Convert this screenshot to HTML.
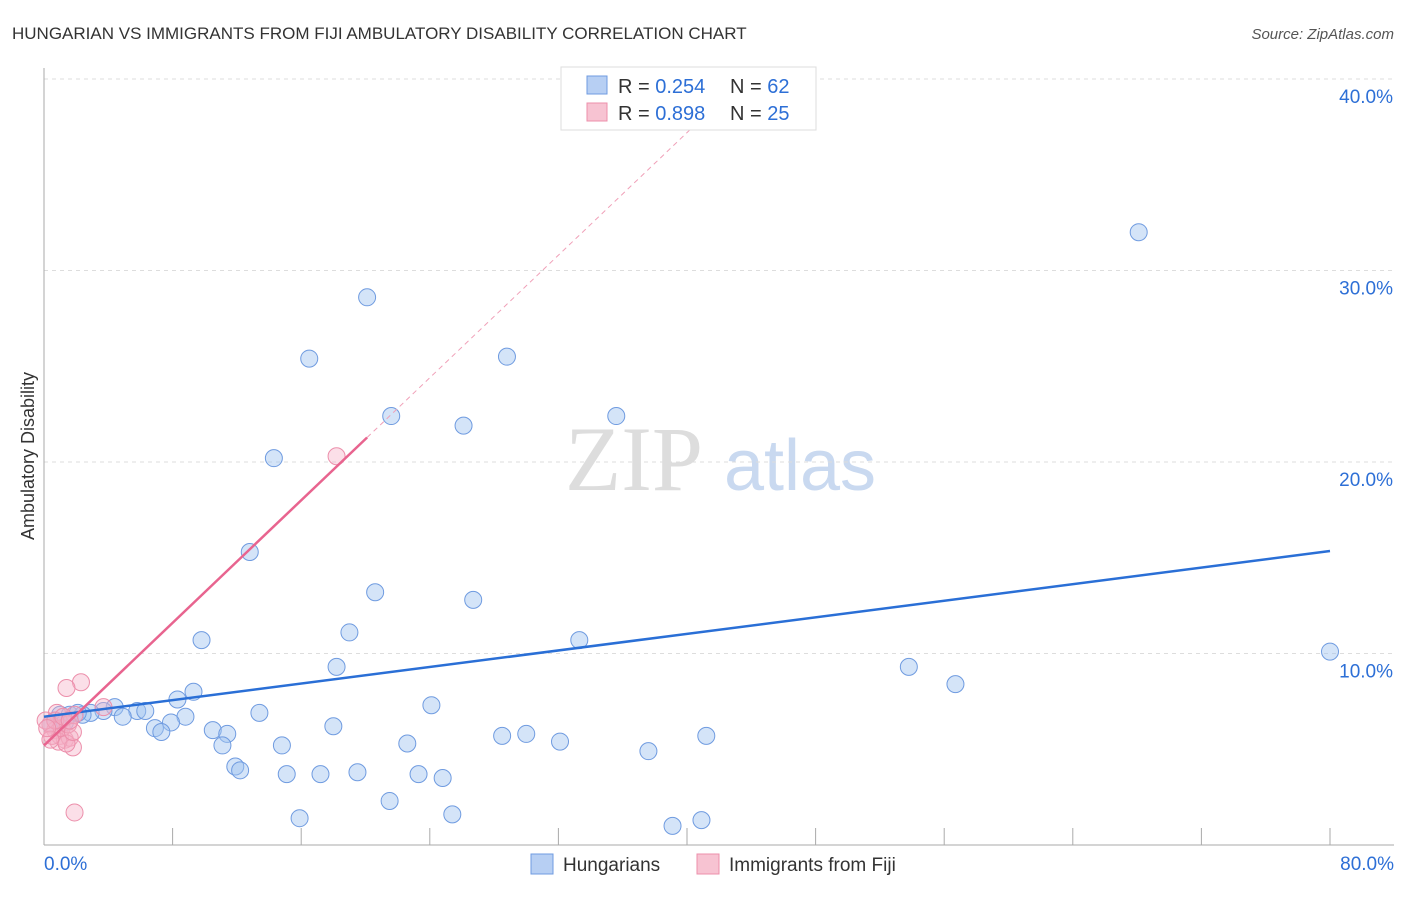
<!DOCTYPE html>
<html><head><meta charset="utf-8"><style>
body{margin:0;background:#fff;font-family:"Liberation Sans",sans-serif}
</style></head><body>
<svg id="chart" width="1406" height="892" xmlns="http://www.w3.org/2000/svg" font-family="Liberation Sans, sans-serif">
<text x="12" y="39" font-size="17" fill="#333">HUNGARIAN VS IMMIGRANTS FROM FIJI AMBULATORY DISABILITY CORRELATION CHART</text>
<text x="1394" y="39" font-size="15" fill="#555" text-anchor="end" font-style="italic">Source: ZipAtlas.com</text>
<g><text x="634" y="490" font-size="92" fill="#ddd" text-anchor="middle" font-family="Liberation Serif, serif">ZIP</text><text x="800" y="490" font-size="72" fill="#c9d9f0" text-anchor="middle">atlas</text></g>
<g id="grid"></g><g id="axes"></g><g id="marks"></g>
<text transform="translate(34,456) rotate(-90)" font-size="18" fill="#333" text-anchor="middle">Ambulatory Disability</text>
<g>
<rect x="561" y="67" width="255" height="63" fill="#fff" stroke="#ddd"/>
<rect x="587" y="76" width="20" height="18" fill="#b7cff3" stroke="#6f9be0"/>
<rect x="587" y="103" width="20" height="18" fill="#f7c3d2" stroke="#ec8fab"/>
<text x="618" y="93" font-size="20" fill="#333">R = <tspan fill="#2d6fd6">0.254</tspan></text>
<text x="730" y="93" font-size="20" fill="#333">N = <tspan fill="#2d6fd6">62</tspan></text>
<text x="618" y="120" font-size="20" fill="#333">R = <tspan fill="#2d6fd6">0.898</tspan></text>
<text x="730" y="120" font-size="20" fill="#333">N = <tspan fill="#2d6fd6">25</tspan></text>
</g>
<g>
<rect x="531" y="854" width="22" height="20" fill="#b7cff3" stroke="#6f9be0"/>
<text x="563" y="871" font-size="19" fill="#333">Hungarians</text>
<rect x="697" y="854" width="22" height="20" fill="#f7c3d2" stroke="#ec8fab"/>
<text x="729" y="871" font-size="19" fill="#333">Immigrants from Fiji</text>
</g>
</svg>
<script>
const blueX=[68.1,20.1,16.5,28.8,21.6,35.6,26.1,14.3,12.8,20.6,26.7,19.0,9.8,33.3,80.0,18.2,53.8,56.7,9.3,8.3,24.1,13.4,4.4,3.7,5.8,6.3,4.9,2.9,8.8,7.9,18.0,6.9,7.3,10.5,11.4,28.5,30.0,41.2,11.1,14.8,22.6,32.1,37.6,11.9,12.2,15.1,17.2,19.5,23.3,24.8,21.5,15.9,25.4,39.1,40.9,0.7,1.0,1.6,2.4,0.4,1.3,2.1];
const blueY=[32.0,28.6,25.4,25.5,22.4,22.4,21.9,20.2,15.3,13.2,12.8,11.1,10.7,10.7,10.1,9.3,9.3,8.4,8.0,7.6,7.3,6.9,7.2,7.0,7.0,7.0,6.7,6.9,6.7,6.4,6.2,6.1,5.9,6.0,5.8,5.7,5.8,5.7,5.2,5.2,5.3,5.4,4.9,4.1,3.9,3.7,3.7,3.8,3.7,3.5,2.3,1.4,1.6,1.0,1.3,6.5,6.8,6.8,6.8,6.3,6.4,6.9];
const pinkX=[18.2,2.3,1.4,0.8,1.9,3.7,0.4,0.7,1.0,1.3,1.6,0.9,1.8,0.5,1.1,1.5,0.1,1.9,0.4,1.4,1.8,0.7,1.2,0.2,1.6];
const pinkY=[20.3,8.5,8.2,6.9,6.8,7.2,6.3,6.0,5.7,5.5,5.6,5.4,5.1,5.7,6.1,6.3,6.5,1.7,5.5,5.3,5.9,6.5,6.7,6.1,6.5];
const blueTrend=[6.7,15.35];
const pinkTrend=[5.2,0.8];
const yTicks=[10,20,30,40];
const xTickLabels=["0.0%","80.0%"];
const X=v=>44+v*16.075, Y=v=>845-v*19.15;
const NS="http://www.w3.org/2000/svg";
function mk(p,t,a){const e=document.createElementNS(NS,t);for(const k in a)e.setAttribute(k,a[k]);document.getElementById(p).appendChild(e);return e;}
yTicks.forEach(t=>{
 const l=mk('grid','line',{x1:44,x2:1394,y1:Y(t),y2:Y(t),stroke:'#ddd','stroke-dasharray':'4,4'});
 
 
 const s=mk('axes','text',{x:1393,y:Y(t)+24,'font-size':19,fill:'#2d6fd6','text-anchor':'end'});s.textContent=t.toFixed(1)+'%';
 
 
});
const ax=mk('axes','line',{x1:44,x2:44,y1:68,y2:845,stroke:'#aaa'});


const bx=mk('axes','line',{x1:44,x2:1394,y1:845,y2:845,stroke:'#aaa'});


for(let i=0;i<=10;i++){const t=mk('axes','line',{x1:X(i*8),x2:X(i*8),y1:828,y2:845,stroke:'#aaa'});
 
 }
[[xTickLabels[0],44,'start'],[xTickLabels[1],1394,'end']].forEach(([s,x,a])=>{const e=mk('axes','text',{x:x,y:870,'font-size':19,fill:'#2d6fd6','text-anchor':a});e.textContent=s;
 
 });
blueX.forEach((x,i)=>{const c=mk('marks','circle',{cx:X(x),cy:Y(blueY[i]),r:8.5,fill:'rgba(160,195,240,0.45)',stroke:'#6f9be0','stroke-width':1});
 
 });
pinkX.forEach((x,i)=>{const c=mk('marks','circle',{cx:X(x),cy:Y(pinkY[i]),r:8.5,fill:'rgba(245,175,198,0.4)',stroke:'#ec8fab','stroke-width':1});
 
 });
const bl=mk('marks','line',{x1:X(0),y1:Y(blueTrend[0]),x2:X(80),y2:Y(blueTrend[1]),stroke:'#2a6fd6','stroke-width':2.5});


const px2=20.1,pxe=(40-pinkTrend[0])/pinkTrend[1];
const pl=mk('marks','line',{x1:X(0),y1:Y(pinkTrend[0]),x2:X(px2),y2:Y(pinkTrend[0]+pinkTrend[1]*px2),stroke:'#e8648f','stroke-width':2.5});


const pd=mk('marks','line',{x1:X(px2),y1:Y(pinkTrend[0]+pinkTrend[1]*px2),x2:X(pxe),y2:Y(40),stroke:'#f0a0b8','stroke-width':1,'stroke-dasharray':'5,4'});


</script>
</body></html>
